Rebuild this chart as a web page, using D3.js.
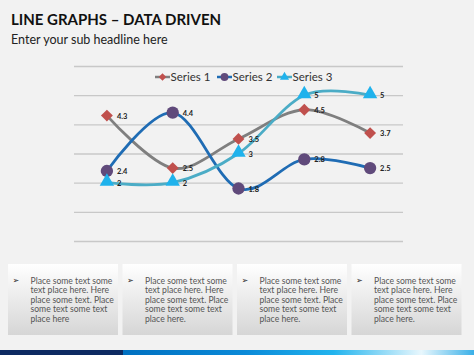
<!DOCTYPE html>
<html><head><meta charset="utf-8">
<script src="https://cdn.jsdelivr.net/npm/d3@7"></script>
<style>
html,body{margin:0;padding:0;background:#f2f2f2;}
svg{display:block;}
</style></head>
<body>
<svg id="c" width="474" height="355"></svg>
<script>
const categories = ["Category 1","Category 2","Category 3","Category 4","Category 5"];
const seriesNames = ["Series 1","Series 2","Series 3"];
const series1 = [4.3, 2.5, 3.5, 4.5, 3.7];
const series2 = [2.4, 4.4, 1.8, 2.8, 2.5];
const series3 = [2, 2, 3, 5, 5];
const yTicks = [0,1,2,3,4,5,6];
const boxTexts = [
  ["Place some text some","text place here. Here","place some text. Place","some text some text","place here"],
  ["Place some text some","text place here. Here","place some text. Place","some text some text","place here."],
  ["Place some text some","text place here. Here","place some text. Place","some text some text","place here."],
  ["Place some text some","text place here. Here","place some text. Place","some text some text","place here."]
];

const svg = d3.select("#c");
const font = "Lato, 'Open Sans', sans-serif";
const defs = svg.append("defs");
svg.append("rect").attr("width",474).attr("height",355).attr("fill","#f2f2f2");

// Title
svg.append("text").attr("x",11).attr("y",25).attr("font-family",font).attr("font-weight","bold")
  .attr("font-size",15).attr("fill","#111").text("LINE GRAPHS – DATA DRIVEN");
svg.append("text").attr("x",11).attr("y",44).attr("font-family",font)
  .attr("font-size",12.5).attr("fill","#222").text("Enter your sub headline here");

// scales
const x = d3.scalePoint().domain(categories).range([74,403]).padding(0.5);
const y = d3.scaleLinear().domain([0,6]).range([241,66]);

// gridlines via axis
const gAxis = svg.append("g").attr("transform","translate(74,0)")
  .call(d3.axisLeft(y).tickValues(yTicks).tickSize(-329).tickFormat(""));
gAxis.select(".domain").remove();
gAxis.selectAll("line").attr("stroke","#c8c8c8").attr("stroke-width",1.3);

const defsS = [
  {name:seriesNames[0], data:series1, line:"#7f7f7f", mark:"#c0504d", sym:d3.symbolDiamond2, size:90},
  {name:seriesNames[1], data:series2, line:"#1f6cb4", mark:"#604a7b", sym:d3.symbolCircle, size:120},
  {name:seriesNames[2], data:series3, line:"#4bacc6", mark:"#1fb2ec", sym:d3.symbolTriangle, size:90}
];
const lineGen = d3.line().x((d,i)=>x(categories[i])).y(d=>y(d)).curve(d3.curveCardinal.tension(0));

defsS.forEach(s=>{
  svg.append("path").datum(s.data).attr("d",lineGen).attr("fill","none")
    .attr("stroke",s.line).attr("stroke-width",2.8);
});
defsS.forEach(s=>{
  const g = svg.append("g");
  g.selectAll("path").data(s.data).join("path")
    .attr("d",d3.symbol().type(s.sym).size(s.size))
    .attr("transform",(d,i)=>`translate(${x(categories[i])},${y(d) + (s.sym===d3.symbolTriangle?-1:0)})`)
    .attr("fill",s.mark);
  g.selectAll("text").data(s.data).join("text")
    .attr("x",(d,i)=>x(categories[i])+10).attr("y",d=>y(d)+3)
    .attr("font-family",font).attr("font-weight","bold").attr("font-size",7.5).attr("fill","#222")
    .text(d=>d);
});

// legend
const legX = [155,217,277];
defsS.forEach((s,i)=>{
  const g = svg.append("g").attr("transform",`translate(${legX[i]},77)`);
  g.append("line").attr("x1",0).attr("x2",15).attr("stroke",s.line).attr("stroke-width",2.5);
  g.append("path").attr("d",d3.symbol().type(s.sym).size(s.size*0.4)).attr("transform","translate(7.5,0)").attr("fill",s.mark);
  g.append("text").attr("x",15.5).attr("y",4.2).attr("font-family",font).attr("font-size",11.5).attr("fill","#333").text(s.name);
});

// boxes
const grad = defs.append("linearGradient").attr("id","bx").attr("x1",0).attr("y1",0).attr("x2",0).attr("y2",1);
grad.append("stop").attr("offset","0%").attr("stop-color","#ffffff");
grad.append("stop").attr("offset","100%").attr("stop-color","#d6d6d6");
const boxX = [8,122.5,237,351.5];
boxTexts.forEach((lines,i)=>{
  const g = svg.append("g").attr("transform",`translate(${boxX[i]},264)`);
  g.append("rect").attr("width",110).attr("height",71).attr("fill","url(#bx)");
  g.append("text").attr("x",4.5).attr("y",19).attr("font-family","'DejaVu Sans', sans-serif").attr("font-size",8).attr("fill","#222").text("➢");
  lines.forEach((t,j)=>{
    g.append("text").attr("x",22.5).attr("y",19.5+j*9.6).attr("font-family",font)
      .attr("font-size",8.6).attr("fill","#555").text(t);
  });
});

// bottom bar
const bg = defs.append("linearGradient").attr("id","bar").attr("x1",0).attr("x2",1);
[[0,"#0070c0"],[0.35,"#0b8ad8"],[0.6,"#22b4ee"],[0.85,"#e8f7fd"],[1,"#3ab0e8"]].forEach(([o,c])=>
  bg.append("stop").attr("offset",o).attr("stop-color",c));
svg.append("rect").attr("x",123).attr("y",350).attr("width",351).attr("height",5).attr("fill","url(#bar)");
svg.append("rect").attr("x",0).attr("y",350).attr("width",123).attr("height",5).attr("fill","#0d2a62");
</script>
</body></html>
